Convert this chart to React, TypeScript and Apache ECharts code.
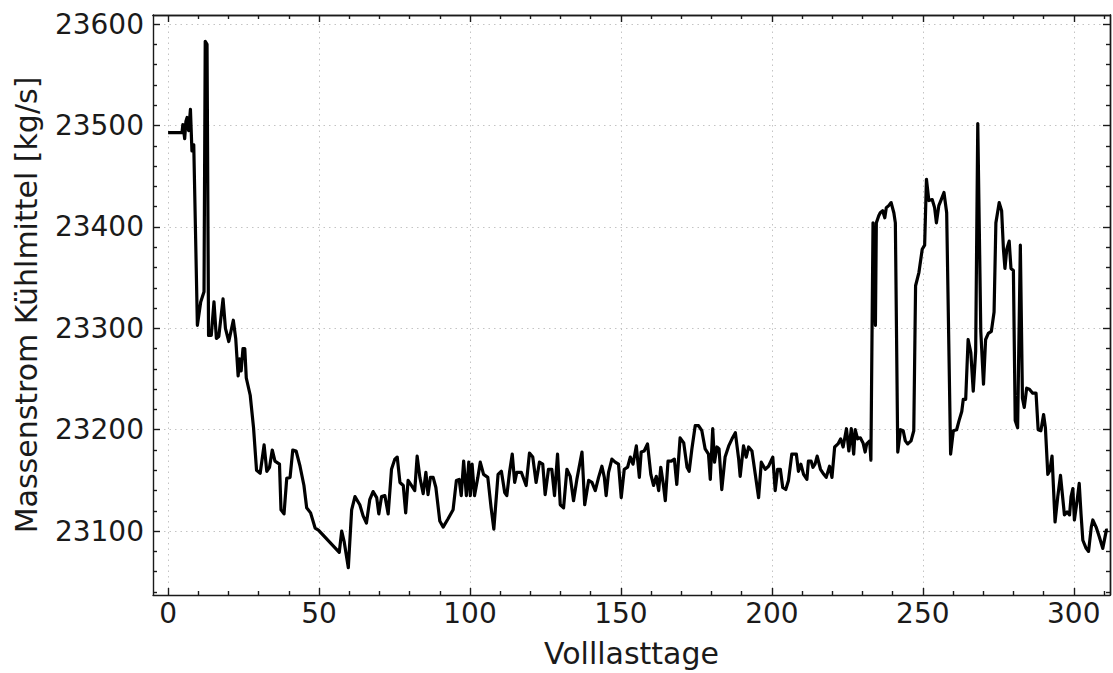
import React, { useEffect, useRef } from "react";
import * as echarts from "echarts";

// Volllasttage (x) and Massenstrom Kühlmittel (y)
const days: number[] = [
  0, 4.6, 4.9, 5.5, 5.9, 6.3, 6.8, 7.4, 7.9, 8.5, 9.7, 10.8, 11.9, 12.3, 12.9, 13.4, 14.3, 15.2, 16.0, 16.8,
  18.2, 19.0, 20.1, 21.6, 22.4, 23.2, 23.7, 24.2, 24.8, 25.4, 25.9, 27.2, 28.3, 29.3, 30.5, 31.8, 32.7, 33.6, 34.5, 35.4,
  36.9, 37.4, 38.4, 39.3, 40.4, 41.3, 42.4, 43.7, 45.0, 45.9, 47.2, 48.7, 49.8, 56.7, 57.5, 58.3, 59.7, 60.8, 61.9, 63.5,
  64.6, 65.7, 66.8, 67.9, 69.1, 69.8, 70.7, 71.8, 72.9, 74.0, 75.1, 75.9, 76.8, 77.9, 78.7, 79.5, 80.6, 81.7, 82.5, 83.4,
  84.5, 85.4, 86.1, 86.9, 87.8, 88.7, 90.0, 91.1, 92.7, 94.4, 95.5, 96.4, 97.1, 97.9, 98.8, 99.6, 100.1, 100.7, 101.5, 102.6,
  103.4, 104.5, 105.9, 107.0, 107.9, 109.3, 110.4, 111.5, 112.2, 113.1, 114.0, 114.8, 115.5, 117.0, 118.6, 119.7, 120.8, 121.9, 123.0, 124.1,
  124.9, 126.0, 127.1, 128.0, 129.0, 129.9, 131.0, 132.1, 133.2, 134.3, 135.4, 137.1, 138.0, 139.3, 140.4, 141.5, 142.6, 143.7, 144.5, 145.1,
  145.9, 147.0, 148.1, 149.2, 150.1, 151.1, 152.2, 153.1, 154.0, 155.1, 156.1, 156.7, 157.7, 158.8, 159.9, 160.8, 161.7, 162.5, 163.2, 164.1,
  164.7, 165.6, 166.7, 167.7, 168.5, 169.6, 170.8, 171.9, 172.6, 173.5, 174.6, 175.7, 176.8, 177.9, 179.0, 179.6, 180.4, 181.0, 181.8, 182.5,
  183.4, 184.5, 185.7, 186.8, 187.9, 189.0, 189.5, 190.6, 191.5, 192.3, 193.4, 194.5, 195.6, 196.5, 197.8, 198.9, 200.3, 201.1, 201.9, 202.8,
  203.6, 204.6, 205.5, 206.6, 208.1, 208.8, 209.6, 210.5, 211.6, 212.1, 213.0, 213.6, 214.3, 215.0, 216.1, 217.2, 218.0, 219.1, 219.9, 220.8,
  221.9, 222.8, 223.6, 224.7, 225.5, 226.3, 227.1, 227.6, 228.4, 229.3, 230.2, 230.9, 231.4, 232.4, 232.8, 233.5, 234.3, 234.6, 235.4, 235.9,
  236.7, 237.4, 237.9, 238.7, 239.5, 240.4, 240.9, 241.7, 242.6, 243.5, 244.2, 245.0, 246.1, 247.0, 247.6, 248.7, 249.8, 250.6, 251.2, 252.0,
  253.1, 253.9, 254.5, 255.3, 256.1, 257.0, 257.9, 259.2, 260.1, 261.2, 262.0, 262.9, 263.4, 264.2, 265.0, 265.9, 266.7, 267.5, 268.2, 269.2,
  270.1, 270.8, 271.7, 272.7, 273.6, 274.2, 275.3, 276.1, 276.7, 277.2, 277.8, 278.6, 279.2, 280.0, 280.6, 281.4, 282.3, 283.0, 283.6, 284.4,
  285.3, 286.4, 287.5, 288.2, 289.1, 290.0, 290.6, 291.4, 292.1, 292.8, 293.8, 294.7, 295.6, 296.9, 297.8, 298.6, 299.1, 299.7, 300.2, 301.1,
  301.8, 302.4, 303.0, 304.1, 304.9, 305.8, 306.3, 307.4, 308.5, 309.6, 310.8, 311.3,
];

const massFlow: number[] = [
  23493, 23493, 23501, 23487, 23504, 23508, 23495, 23516, 23475, 23481, 23303, 23326, 23336, 23583, 23580, 23293, 23293, 23326, 23290, 23292,
  23329, 23300, 23287, 23308, 23290, 23253, 23270, 23258, 23280, 23280, 23251, 23234, 23202, 23160, 23157, 23185, 23159, 23163, 23180, 23169,
  23166, 23121, 23117, 23152, 23153, 23180, 23179, 23164, 23145, 23123, 23118, 23103, 23101, 23079, 23100, 23090, 23064, 23121, 23134, 23126,
  23115, 23108, 23131, 23139, 23133, 23117, 23134, 23135, 23117, 23161, 23171, 23173, 23148, 23145, 23118, 23150, 23145, 23140, 23174, 23153,
  23137, 23158, 23136, 23153, 23153, 23143, 23110, 23104, 23112, 23121, 23150, 23151, 23135, 23169, 23135, 23168, 23135, 23166, 23135, 23153,
  23168, 23156, 23153, 23123, 23102, 23156, 23159, 23138, 23135, 23158, 23176, 23148, 23158, 23158, 23145, 23177, 23173, 23148, 23168, 23166,
  23136, 23161, 23161, 23135, 23176, 23126, 23123, 23161, 23154, 23130, 23151, 23178, 23126, 23150, 23148, 23140, 23153, 23164, 23153, 23135,
  23158, 23171, 23168, 23166, 23133, 23161, 23163, 23173, 23166, 23184, 23153, 23178, 23179, 23186, 23156, 23145, 23154, 23140, 23163, 23145,
  23130, 23169, 23169, 23171, 23146, 23192, 23187, 23163, 23159, 23181, 23204, 23204, 23199, 23181, 23176, 23151, 23201, 23168, 23183, 23181,
  23141, 23173, 23184, 23191, 23197, 23171, 23154, 23184, 23173, 23183, 23179, 23156, 23133, 23168, 23161, 23164, 23173, 23140, 23161, 23161,
  23143, 23141, 23150, 23176, 23176, 23159, 23166, 23156, 23151, 23169, 23169, 23163, 23166, 23174, 23161, 23156, 23153, 23164, 23153, 23183,
  23186, 23191, 23183, 23201, 23179, 23201, 23176, 23200, 23191, 23192, 23187, 23178, 23186, 23189, 23170, 23404, 23303, 23404, 23411, 23414,
  23416, 23409, 23419, 23421, 23424, 23414, 23404, 23178, 23200, 23199, 23189, 23186, 23189, 23199, 23342, 23355, 23378, 23382, 23447, 23426,
  23427, 23419, 23404, 23421, 23427, 23434, 23414, 23176, 23199, 23200, 23209, 23218, 23230, 23230, 23289, 23276, 23238, 23277, 23502, 23297,
  23245, 23289, 23295, 23297, 23316, 23404, 23424, 23416, 23378, 23359, 23378, 23386, 23359, 23357, 23209, 23202, 23382, 23231, 23222, 23241,
  23240, 23236, 23236, 23200, 23199, 23215, 23202, 23156, 23160, 23174, 23109, 23134, 23155, 23116, 23119, 23116, 23134, 23142, 23111, 23130,
  23147, 23117, 23091, 23083, 23080, 23104, 23111, 23104, 23094, 23083, 23101, 23101,
];

const xMajorTicks: number[] = [0, 50, 100, 150, 200, 250, 300];
const xMinorTicks: number[] = [10, 20, 30, 40, 60, 70, 80, 90, 110, 120, 130, 140, 160, 170, 180, 190, 210, 220, 230, 240, 260, 270, 280, 290, 310];
const yMajorTicks: number[] = [23100, 23200, 23300, 23400, 23500, 23600];
const yMinorTicks: number[] = [
  23040, 23060, 23080, 23120, 23140, 23160, 23180, 23220, 23240, 23260, 23280, 23320, 23340, 23360, 23380,
  23420, 23440, 23460, 23480, 23520, 23540, 23560, 23580,
];

const X_MIN = -5;
const X_MAX = 312;
const Y_MIN = 23037;
const Y_MAX = 23609;

const FONT = "DejaVu Sans";
const AXIS_COLOR = "#1a1a1a";

export default function App() {
  const ref = useRef<HTMLDivElement>(null);

  useEffect(() => {
    if (!ref.current) return;
    const chart = echarts.init(ref.current, null, { renderer: "svg" });
    const lineStyle = { color: AXIS_COLOR, width: 1.4 };
    const plain = (v: number) => String(Math.round(v));

    const makeX = (position: "bottom" | "top", ticks: number[], len: number, main: boolean) => ({
      type: "value" as const,
      min: X_MIN,
      max: X_MAX,
      position,
      axisLine: { show: main || position === "top", onZero: false, lineStyle },
      axisTick: { show: true, inside: true, length: len, customValues: ticks, lineStyle },
      axisLabel: main
        ? { show: true, customValues: ticks, formatter: plain, color: AXIS_COLOR, fontFamily: FONT, fontSize: 28, margin: 4 }
        : { show: false },
      splitLine: main
        ? { show: true, lineStyle: { color: "#c4c4c4", width: 1, type: [1.5, 4] } }
        : { show: false },
      name: main ? "Volllasttage" : "",
      nameLocation: "middle" as const,
      nameGap: 43,
      nameTextStyle: { color: AXIS_COLOR, fontFamily: FONT, fontSize: 30 },
    });

    const makeY = (position: "left" | "right", ticks: number[], len: number, main: boolean) => ({
      type: "value" as const,
      min: Y_MIN,
      max: Y_MAX,
      position,
      axisLine: { show: main || position === "right", onZero: false, lineStyle },
      axisTick: { show: true, inside: true, length: len, customValues: ticks, lineStyle },
      axisLabel: main
        ? { show: true, customValues: ticks, formatter: plain, color: AXIS_COLOR, fontFamily: FONT, fontSize: 28, margin: 9 }
        : { show: false },
      splitLine: main
        ? { show: true, lineStyle: { color: "#c4c4c4", width: 1, type: [1.5, 4] } }
        : { show: false },
      name: main ? "Massenstrom Kühlmittel [kg/s]" : "",
      nameLocation: "middle" as const,
      nameGap: 112,
      nameTextStyle: { color: AXIS_COLOR, fontFamily: FONT, fontSize: 30 },
    });

    const points = days.map((d, i) => [d, massFlow[i]]);

    chart.setOption({
      animation: false,
      backgroundColor: "#ffffff",
      grid: { left: 153, top: 15, right: 3, bottom: 76, containLabel: false },
      xAxis: [
        makeX("bottom", xMajorTicks, 7, true),
        makeX("bottom", xMinorTicks, 4, false),
        makeX("top", xMajorTicks, 7, false),
        makeX("top", xMinorTicks, 4, false),
      ],
      yAxis: [
        makeY("left", yMajorTicks, 7, true),
        makeY("left", yMinorTicks, 4, false),
        makeY("right", yMajorTicks, 7, false),
        makeY("right", yMinorTicks, 4, false),
      ],
      series: [
        {
          type: "line",
          xAxisIndex: 0,
          yAxisIndex: 0,
          data: points,
          showSymbol: false,
          symbol: "none",
          lineStyle: { color: "#000000", width: 3.2, join: "round" },
          clip: true,
        },
      ],
    });

    return () => chart.dispose();
  }, []);

  return (
    <div
      ref={ref}
      style={{ position: "fixed", left: 0, top: 0, width: 1113, height: 673, background: "#fff" }}
    />
  );
}
